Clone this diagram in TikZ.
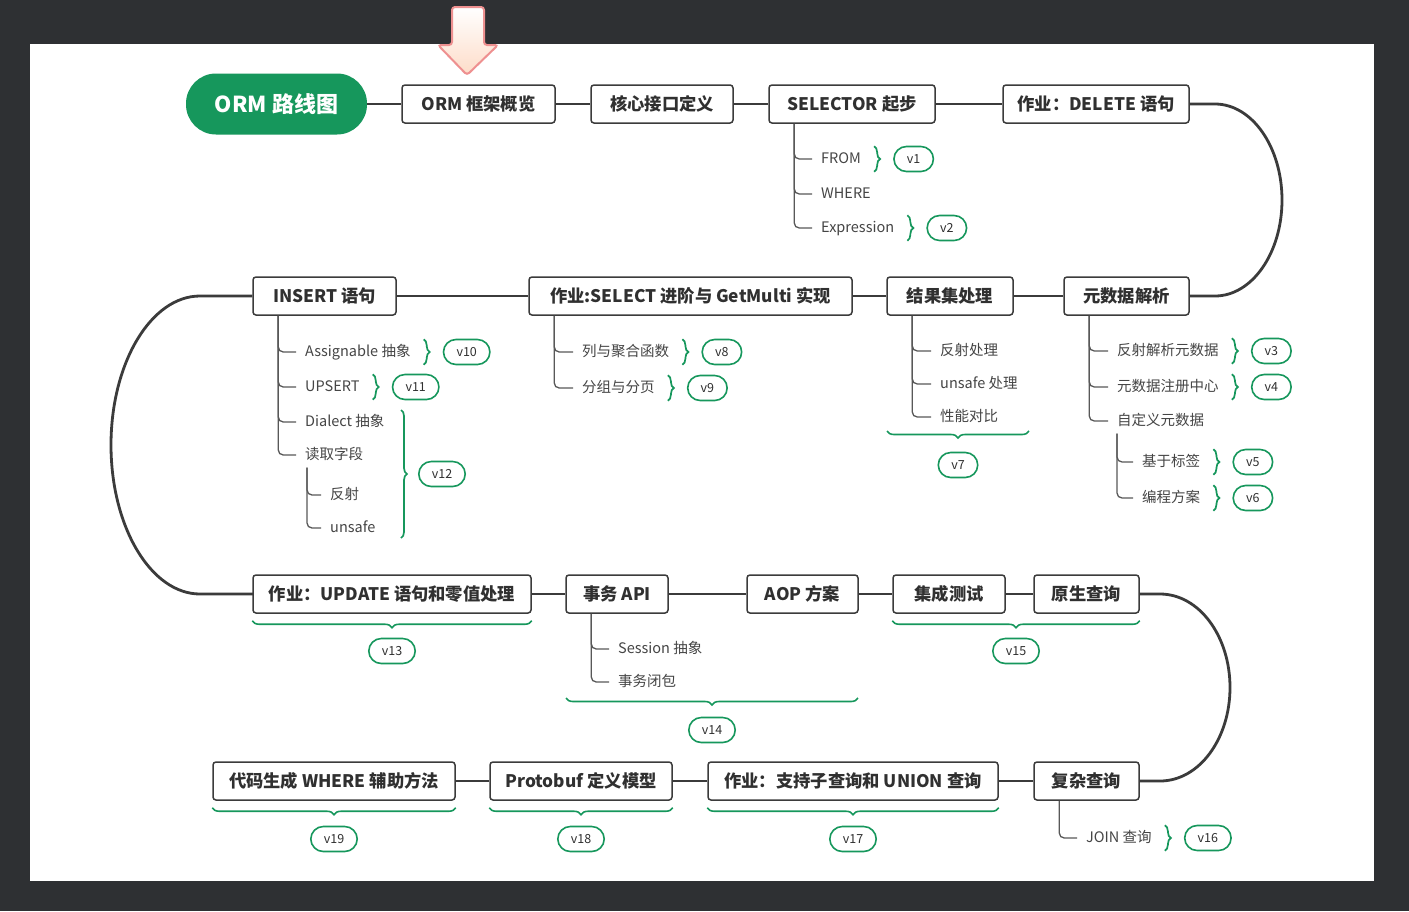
\documentclass[tikz,border=0pt]{standalone}
\usepackage{fontspec}
\setmainfont{Noto Sans CJK SC}
\usetikzlibrary{decorations.pathreplacing,calc}
\definecolor{bg}{HTML}{2E3033}
\definecolor{gr}{HTML}{16975C}
\definecolor{ln}{HTML}{3B3B3B}
\definecolor{tx}{HTML}{303030}
\definecolor{ctx}{HTML}{454545}
\definecolor{arrline}{HTML}{EE9090}
\definecolor{arrfill}{HTML}{FDDCC8}
\tikzset{
 rootbox/.style={fill=gr, rounded corners=30pt, minimum width=181pt, minimum height=61pt, inner sep=0pt, text=white, font=\fontsize{22pt}{25pt}\selectfont\bfseries},
 box/.style={draw=ln, line width=1.5pt, rounded corners=3pt, fill=white, minimum height=38pt, inner sep=0pt, font=\fontsize{17.3pt}{20pt}\selectfont\bfseries, text=tx},
 conn/.style={draw=ln, line width=2.8pt},
 child/.style={anchor=west, inner xsep=4pt, inner ysep=0pt, text height=12pt, text depth=3pt, minimum height=25pt, font=\fontsize{14.5pt}{17pt}\selectfont, text=ctx},
 tree/.style={draw=ln!85, line width=1.3pt, rounded corners=5pt},
 pill/.style={draw=gr, line width=1.6pt, rounded corners=12.5pt, minimum height=25pt, inner xsep=13pt, inner ysep=0pt, font=\fontsize{12.5pt}{14pt}\selectfont, text=tx, fill=white},
 gbrace/.style={draw=gr, line width=1.7pt, decorate, decoration={brace, amplitude=6pt}},
 ubrace/.style={draw=gr, line width=1.6pt, decorate, decoration={brace, amplitude=7pt}},
}
\newcommand\vtag[3]{%
 \draw[gbrace] ([xshift=9pt]#1.north east) -- ([xshift=9pt]#1.south east);
 \node[pill, anchor=west] (#2) at ([xshift=28pt]#1.east) {#3};}
\begin{document}
\begin{tikzpicture}[x=1pt,y=-1pt]
\fill[bg] (0,0) rectangle (1409,911);
\fill[white] (30,44) rectangle (1374,881);
% top arrow
\draw[draw=arrline, line width=2pt, rounded corners=3pt, top color=white, bottom color=arrfill]
 (438,45) -- (452,45) -- (452,7) -- (484,7) -- (484,45) -- (498,45) -- (467,75) -- cycle;

% row 1
\node[rootbox] (root) at (276.5,104) {ORM 路线图};
\node[box, minimum width=153pt] (b1) at (478.5,104) {ORM 框架概览};
\node[box, minimum width=142pt] (b2) at (662,104) {核心接口定义};
\node[box, minimum width=166pt] (b3) at (852,104) {SELECTOR 起步};
\node[box, minimum width=186pt] (b4) at (1096,104) {作业：DELETE 语句};
\draw[conn] (root) -- (b1);
\draw[conn] (b1) -- (b2);
\draw[conn] (b2) -- (b3);
\draw[conn] (b3) -- (b4);

\node[child] (s1) at (817,159) {FROM};
\node[child] (s2) at (817,194) {WHERE};
\node[child] (s3) at (817,228) {Expression};
\foreach \c in {s1,s2,s3} \draw[tree] ([xshift=26pt]b3.south west) |- ([xshift=-5pt]\c.west);
\vtag{s1}{v1}{v1}
\vtag{s3}{v2}{v2}

% row 2
\node[box, minimum width=125pt] (b5) at (1126.5,296) {元数据解析};
\node[box, minimum width=126pt] (b6) at (950,296) {结果集处理};
\node[box, minimum width=323pt] (b7) at (690.5,296) {作业:SELECT 进阶与 GetMulti 实现};
\node[box, minimum width=143pt] (b8) at (324.5,296) {INSERT 语句};
\draw[conn] (b4.east) -- (1215,104) .. controls (1252,104) and (1282,147) .. (1282,200)
 .. controls (1282,253) and (1252,296) .. (1215,296) -- (b5.east);
\draw[conn] (b5) -- (b6);
\draw[conn] (b6) -- (b7);
\draw[conn] (b7) -- (b8);
\draw[conn] (b8.west) -- (200,296) .. controls (151,296) and (111,363) .. (111,445)
 .. controls (111,527) and (151,594) .. (200,594) -- (253,594);

% INSERT children
\node[child] (i1) at (301,352) {Assignable 抽象};
\node[child] (i2) at (301,387) {UPSERT};
\node[child] (i3) at (301,422) {Dialect 抽象};
\node[child] (i4) at (301,455) {读取字段};
\foreach \c in {i1,i2,i3,i4} \draw[tree] ([xshift=26pt]b8.south west) |- ([xshift=-5pt]\c.west);
\node[child] (i5) at (326,495) {反射};
\node[child] (i6) at (326,528) {unsafe};
\foreach \c in {i5,i6} \draw[tree] ([xshift=6pt]i4.south west) |- ([xshift=-5pt]\c.west);
\vtag{i1}{v10}{v10}
\vtag{i2}{v11}{v11}
\draw[gbrace] (401,410) -- (401,538);
\node[pill, anchor=west] (v12) at (418,474) {v12};

% SELECT children
\node[child] (e1) at (578,352) {列与聚合函数};
\node[child] (e2) at (578,388) {分组与分页};
\foreach \c in {e1,e2} \draw[tree] ([xshift=26pt]b7.south west) |- ([xshift=-5pt]\c.west);
\vtag{e1}{v8}{v8}
\vtag{e2}{v9}{v9}

% result set children
\node[child] (r1) at (936,351) {反射处理};
\node[child] (r2) at (936,384) {unsafe 处理};
\node[child] (r3) at (936,417) {性能对比};
\foreach \c in {r1,r2,r3} \draw[tree] ([xshift=26pt]b6.south west) |- ([xshift=-5pt]\c.west);
\draw[ubrace] (1029,431) -- (887,431);
\node[pill] (v7) at (958,465) {v7};

% metadata children
\node[child] (m1) at (1113,351) {反射解析元数据};
\node[child] (m2) at (1113,387) {元数据注册中心};
\node[child] (m3) at (1113,421) {自定义元数据};
\foreach \c in {m1,m2,m3} \draw[tree] ([xshift=26pt]b5.south west) |- ([xshift=-5pt]\c.west);
\node[child] (m4) at (1138,462) {基于标签};
\node[child] (m5) at (1138,498) {编程方案};
\foreach \c in {m4,m5} \draw[tree] ([xshift=4pt]m3.south west) |- ([xshift=-5pt]\c.west);
\vtag{m1}{v3}{v3}
\vtag{m2}{v4}{v4}
\vtag{m4}{v5}{v5}
\vtag{m5}{v6}{v6}

% row 3
\node[box, minimum width=278pt] (b9) at (392,594) {作业：UPDATE 语句和零值处理};
\node[box, minimum width=102pt] (b10) at (617,594) {事务 API};
\node[box, minimum width=111pt] (b11) at (802.5,594) {AOP 方案};
\node[box, minimum width=112pt] (b12) at (949,594) {集成测试};
\node[box, minimum width=105pt] (b13) at (1086.5,594) {原生查询};
\draw[conn] (b9) -- (b10);
\draw[conn] (b10) -- (b11);
\draw[conn] (b11) -- (b12);
\draw[conn] (b12) -- (b13);
\draw[ubrace] ([yshift=-7pt]b9.south east) -- ([yshift=-7pt]b9.south west);
\node[pill] (v13) at (392,651) {v13};
\node[child] (t1) at (614,649) {Session 抽象};
\node[child] (t2) at (614,682) {事务闭包};
\foreach \c in {t1,t2} \draw[tree] ([xshift=26pt]b10.south west) |- ([xshift=-5pt]\c.west);
\draw[ubrace] (858,698) -- (566,698);
\node[pill] (v14) at (712,730) {v14};
\draw[ubrace] ([yshift=-7pt]b13.south east) -- ([yshift=-7pt]b12.south west);
\node[pill] (v15) at (1016,651) {v15};

% row 4
\node[box, minimum width=105pt] (b14) at (1086.5,781) {复杂查询};
\node[box, minimum width=290pt] (b15) at (853,781) {作业：支持子查询和 UNION 查询};
\node[box, minimum width=182pt] (b16) at (581,781) {Protobuf 定义模型};
\node[box, minimum width=242pt] (b17) at (334,781) {代码生成 WHERE 辅助方法};
\draw[conn] (b13.east) -- (1160,594) .. controls (1199,594) and (1230,636) .. (1230,687.5)
 .. controls (1230,739) and (1199,781) .. (1160,781) -- (b14.east);
\draw[conn] (b14) -- (b15);
\draw[conn] (b15) -- (b16);
\draw[conn] (b16) -- (b17);
\node[child] (j1) at (1082,838) {JOIN 查询};
\draw[tree] ([xshift=26pt]b14.south west) |- ([xshift=-5pt]j1.west);
\vtag{j1}{v16}{v16}
\draw[ubrace] ([yshift=-7pt]b15.south east) -- ([yshift=-7pt]b15.south west);
\node[pill] (v17) at (853,839) {v17};
\draw[ubrace] ([yshift=-7pt]b16.south east) -- ([yshift=-7pt]b16.south west);
\node[pill] (v18) at (581,839) {v18};
\draw[ubrace] ([yshift=-7pt]b17.south east) -- ([yshift=-7pt]b17.south west);
\node[pill] (v19) at (334,839) {v19};
\end{tikzpicture}
\end{document}
